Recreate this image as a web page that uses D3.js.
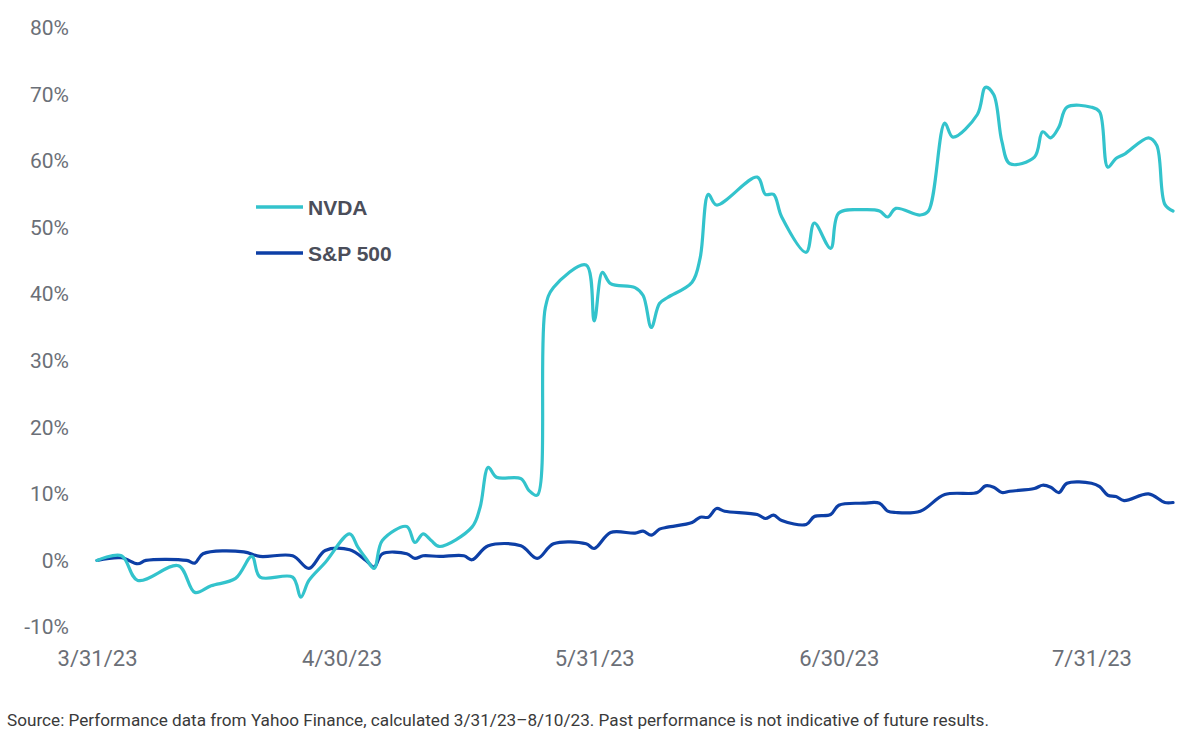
<!DOCTYPE html>
<html>
<head>
<meta charset="utf-8">
<script src="https://cdn.jsdelivr.net/npm/d3@7"></script>
<style>
  html, body { margin: 0; padding: 0; background: #ffffff; }
  svg { display: block; }
</style>
</head>
<body>
<svg id="chart" width="1200" height="747"></svg>
<script>
// ---- Data (percent return since 3/31/23) ----
const nvdaDates = ["3/31/23","4/3/23","4/5/23","4/10/23","4/12/23","4/14/23","4/17/23","4/19/23","4/20/23","4/24/23","4/25/23","4/26/23","4/28/23","5/1/23","5/2/23","5/3/23","5/4/23","5/5/23","5/8/23","5/9/23","5/10/23","5/11/23","5/12/23","5/16/23","5/17/23","5/18/23","5/19/23","5/22/23","5/23/23","5/24/23","5/25/23","5/26/23","5/30/23","5/31/23","6/1/23","6/2/23","6/5/23","6/6/23","6/7/23","6/8/23","6/9/23","6/12/23","6/13/23","6/14/23","6/15/23","6/20/23","6/21/23","6/22/23","6/23/23","6/26/23","6/27/23","6/29/23","6/30/23","7/3/23","7/5/23","7/6/23","7/7/23","7/10/23","7/11/23","7/13/23","7/14/23","7/17/23","7/18/23","7/19/23","7/20/23","7/21/23","7/24/23","7/25/23","7/26/23","7/27/23","7/28/23","7/31/23","8/1/23","8/2/23","8/3/23","8/4/23","8/7/23","8/8/23","8/9/23","8/10/23"];
const nvdaValues = [0,0.7,-3.0,-0.8,-4.8,-3.8,-2.7,0.6,-2.5,-2.5,-5.5,-3.0,-0.3,4.0,2.0,0.3,-1.2,3.0,5.1,2.7,4.0,3.0,2.1,5.0,8.0,14.0,12.5,12.3,10.5,9.8,38.0,41.0,44.4,36.0,43.3,41.6,41.0,39.8,35.0,38.6,39.5,41.8,45.5,55.0,53.4,57.6,55.0,55.0,51.6,46.3,50.7,46.9,52.2,52.7,52.5,51.6,52.9,51.9,52.5,65.7,63.6,67.0,71.1,70.0,63.0,59.6,60.6,64.4,63.5,65.1,68.1,68.1,67.4,59.1,60.4,61.0,63.5,62.4,53.5,52.5];

const spDates = ["3/31/23","4/3/23","4/5/23","4/6/23","4/11/23","4/12/23","4/13/23","4/18/23","4/20/23","4/24/23","4/26/23","4/28/23","5/1/23","5/3/23","5/4/23","5/5/23","5/8/23","5/9/23","5/10/23","5/12/23","5/15/23","5/16/23","5/18/23","5/22/23","5/24/23","5/26/23","5/30/23","5/31/23","6/2/23","6/5/23","6/6/23","6/7/23","6/8/23","6/9/23","6/12/23","6/13/23","6/14/23","6/15/23","6/16/23","6/20/23","6/21/23","6/22/23","6/23/23","6/26/23","6/27/23","6/29/23","6/30/23","7/3/23","7/5/23","7/6/23","7/7/23","7/10/23","7/13/23","7/17/23","7/18/23","7/19/23","7/20/23","7/21/23","7/24/23","7/25/23","7/26/23","7/27/23","7/28/23","7/31/23","8/1/23","8/2/23","8/3/23","8/4/23","8/7/23","8/9/23","8/10/23"];
const spValues = [0,0.4,-0.5,0,0,-0.4,1.0,1.3,0.6,0.7,-1.2,1.5,1.6,0,-1.0,1.0,1.0,0.3,0.7,0.6,0.7,0.1,2.2,2.2,0.3,2.5,2.5,1.8,4.2,4.1,4.4,3.8,4.7,5.0,5.7,6.5,6.5,7.8,7.4,6.9,6.3,6.8,6.0,5.4,6.6,6.9,8.3,8.6,8.6,7.4,7.2,7.4,9.9,10.2,11.2,11.0,10.2,10.4,10.8,11.3,11.0,10.2,11.6,11.6,11.1,9.8,9.6,9.0,10.0,8.7,8.7];

const yTicks = [-10,0,10,20,30,40,50,60,70,80];
const xTickDates = ["3/31/23","4/30/23","5/31/23","6/30/23","7/31/23"];
const seriesNames = ["NVDA","S&P 500"];
const seriesColors = ["#33c3cc","#0d3fa6"];
const sourceNote = "Source: Performance data from Yahoo Finance, calculated 3/31/23\u20138/10/23. Past performance is not indicative of future results.";

// ---- Drawing ----
const parse = d3.timeParse("%m/%d/%y");
const fmt = d3.timeFormat("%-m/%-d/%y");
const svg = d3.select("#chart");

const x = d3.scaleTime()
  .domain([parse("3/31/23"), parse("8/10/23")])
  .range([97, 1173]);
const y = d3.scaleLinear()
  .domain([-10, 80])
  .range([627, 28]);

const fontFam = "Roboto, 'Liberation Sans', Arial, sans-serif";

// Y axis
const yAxis = svg.append("g")
  .attr("transform", "translate(69,0)")
  .call(d3.axisLeft(y).tickValues(yTicks).tickSize(0).tickPadding(0).tickFormat(d => d + "%"));
yAxis.select(".domain").remove();
yAxis.selectAll("text")
  .attr("fill", "#6b6f77")
  .style("font-family", fontFam)
  .style("font-size", "21px");

// X axis
const xAxis = svg.append("g")
  .attr("transform", "translate(0,650)")
  .call(d3.axisBottom(x).tickValues(xTickDates.map(parse)).tickSize(0).tickPadding(0).tickFormat(fmt));
xAxis.select(".domain").remove();
xAxis.selectAll("text")
  .attr("fill", "#6b6f77")
  .attr("dy", "0.71em")
  .style("font-family", fontFam)
  .style("font-size", "22px");

// Lines
const line = d3.line()
  .x(d => x(d.date))
  .y(d => y(d.value))
  .curve(d3.curveCatmullRom.alpha(0.5));

const nvda = nvdaDates.map((d, i) => ({date: parse(d), value: nvdaValues[i]}));
const sp = spDates.map((d, i) => ({date: parse(d), value: spValues[i]}));

svg.append("path")
  .datum(sp)
  .attr("fill", "none")
  .attr("stroke", seriesColors[1])
  .attr("stroke-width", 3.2)
  .attr("stroke-linejoin", "round")
  .attr("stroke-linecap", "round")
  .attr("d", line);

svg.append("path")
  .datum(nvda)
  .attr("fill", "none")
  .attr("stroke", seriesColors[0])
  .attr("stroke-width", 3.2)
  .attr("stroke-linejoin", "round")
  .attr("stroke-linecap", "round")
  .attr("d", line);

// Legend
const legend = svg.append("g");
seriesNames.forEach((name, i) => {
  const ly = 207 + i * 46;
  legend.append("line")
    .attr("x1", 256).attr("x2", 303)
    .attr("y1", ly).attr("y2", ly)
    .attr("stroke", seriesColors[i])
    .attr("stroke-width", 3.5);
  legend.append("text")
    .attr("x", 308).attr("y", ly)
    .attr("dy", "0.36em")
    .attr("fill", "#4b4e5a")
    .style("font-family", "'Liberation Sans', Arial, sans-serif")
    .style("font-weight", "bold")
    .style("font-size", "21px")
    .text(name);
});

// Source note
svg.append("text")
  .attr("x", 7).attr("y", 726)
  .attr("fill", "#3a3a3a")
  .attr("textLength", 982)
  .attr("lengthAdjust", "spacingAndGlyphs")
  .style("font-family", fontFam)
  .style("font-size", "17px")
  .text(sourceNote);
</script>
</body>
</html>
